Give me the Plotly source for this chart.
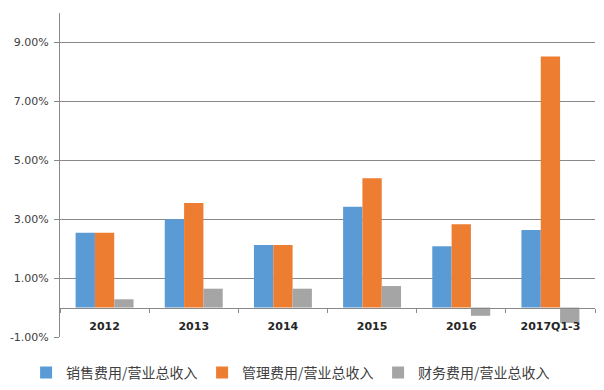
import plotly.graph_objects as go

categories = ["2012", "2013", "2014", "2015", "2016", "2017Q1-3"]
sales_ratio = [2.54, 3.00, 2.12, 3.42, 2.08, 2.63]
admin_ratio = [2.54, 3.55, 2.12, 4.39, 2.83, 8.52]
finance_ratio = [0.28, 0.64, 0.64, 0.73, -0.28, -0.52]
series_names = ["销售费用/营业总收入", "管理费用/营业总收入", "财务费用/营业总收入"]
colors = ["#5B9BD5", "#ED7D31", "#A5A5A5"]
y_ticks = [-1, 1, 3, 5, 7, 9]

fig = go.Figure()
for name, vals, col in zip(series_names, [sales_ratio, admin_ratio, finance_ratio], colors):
    fig.add_trace(go.Bar(x=categories, y=vals, name=name, marker=dict(color=col, line=dict(width=0))))

W, H = 604, 390
ml, mr, mt, mb = 60, 9, 13, 53
ymin, ymax = -1, 10
zero_pos = (0 - ymin) / (ymax - ymin)

fig.update_layout(
    width=W, height=H,
    margin=dict(l=ml, r=mr, t=mt, b=mb, autoexpand=False),
    paper_bgcolor="white", plot_bgcolor="white",
    barmode="group", bargap=0.35, bargroupgap=0,
    font=dict(family="DejaVu Sans", size=11, color="#404040"),
    showlegend=True,
    legend=dict(
        orientation="h", xref="container", yref="container",
        x=0.0432, y=0.044, xanchor="left", yanchor="middle",
        font=dict(family="Noto Sans CJK SC", size=14, color="#404040"),
        entrywidth=131, entrywidthmode="pixels",
        bgcolor="rgba(0,0,0,0)",
    ),
    xaxis=dict(
        anchor="free", position=zero_pos, automargin=False,
        showline=True, linecolor="#898989", linewidth=1,
        ticks="outside", tickson="boundaries", ticklen=4, tickcolor="#898989",
        ticklabelstandoff=8,
        showgrid=False,
        tickfont=dict(family="DejaVu Sans", size=11, color="#262626", weight="bold"),
    ),
    yaxis=dict(
        range=[ymin, ymax], tickmode="array", tickvals=y_ticks,
        ticktext=[f"{v:.2f}%" for v in y_ticks], automargin=False,
        showgrid=True, gridcolor="#898989", gridwidth=1,
        showline=True, linecolor="#898989", linewidth=1,
        ticks="outside", ticklen=5, tickcolor="#898989",
        ticklabelstandoff=3,
        zeroline=False,
        tickfont=dict(family="DejaVu Sans", size=11, color="#404040"),
    ),
)

fig.write_html("out.html", config={"displayModeBar": False},
               post_script="document.body.style.margin='0';")
